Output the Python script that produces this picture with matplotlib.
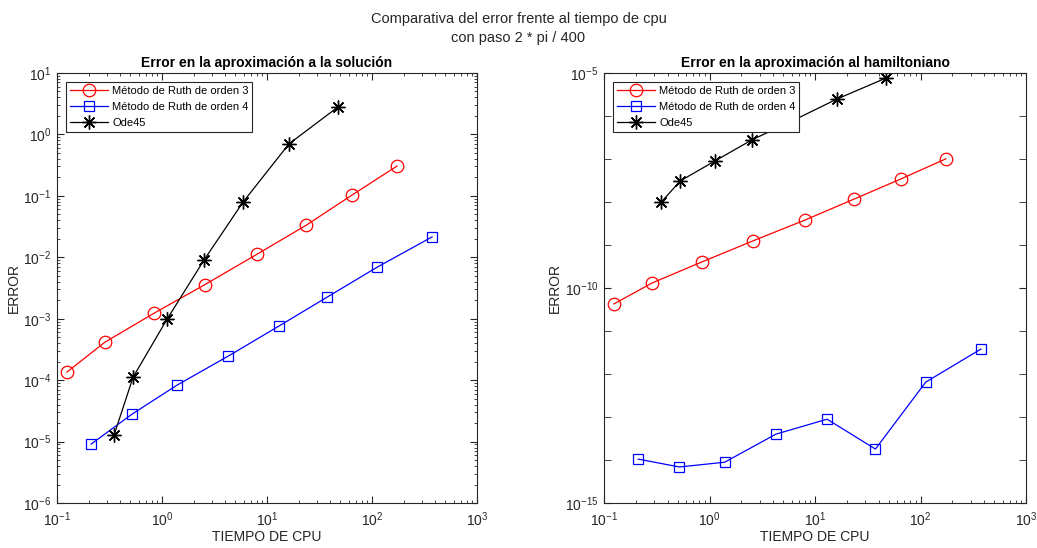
import matplotlib
matplotlib.use('Agg')
import matplotlib.pyplot as plt
from matplotlib.ticker import LogLocator, NullFormatter, LogFormatterSciNotation

plt.rcParams['font.family'] = ['Liberation Sans', 'DejaVu Sans']
plt.rcParams['mathtext.fontset'] = 'custom'
plt.rcParams['mathtext.rm'] = 'Liberation Sans'
plt.rcParams['mathtext.it'] = 'Liberation Sans:italic'
plt.rcParams['mathtext.bf'] = 'Liberation Sans:bold'

# tiempos de cpu
t_ruth3 = [0.124, 0.286, 0.84, 2.57, 8.03, 23.5, 64.6, 173]
t_ruth4 = [0.211, 0.518, 1.39, 4.25, 13.0, 37.3, 112, 373]
t_ode45 = [0.349, 0.53, 1.12, 2.51, 5.91, 16.2, 47.4]

# error en la solucion
err_sol_ruth3 = [1.35e-4, 4.15e-4, 1.23e-3, 3.6e-3, 1.12e-2, 3.3e-2, 0.103, 0.305]
err_sol_ruth4 = [9.1e-6, 2.8e-5, 8.3e-5, 2.45e-4, 7.6e-4, 2.24e-3, 6.9e-3, 2.14e-2]
err_sol_ode45 = [1.27e-5, 1.12e-4, 9.9e-4, 9.0e-3, 7.9e-2, 0.70, 2.79]

# error en el hamiltoniano
err_ham_ruth3 = [4.26e-11, 1.31e-10, 4.0e-10, 1.24e-9, 3.8e-9, 1.17e-8, 3.4e-8, 1.0e-7]
err_ham_ruth4 = [1.05e-14, 6.9e-15, 8.9e-15, 4.0e-14, 8.9e-14, 1.8e-14, 6.5e-13, 3.8e-12]
err_ham_ode45 = [1.0e-8, 3.1e-8, 8.9e-8, 2.76e-7, 7.4e-7, 2.48e-6, 7.65e-6]

labels = ['Método de Ruth de orden 3', 'Método de Ruth de orden 4', 'Ode45']
gray = '#262626'
star = (8, 2, 0)

fig = plt.figure(figsize=(10.37, 5.48), dpi=100)
fig.text(0.5, 0.965, 'Comparativa del error frente al tiempo de cpu',
         ha='center', va='center', fontsize=10.5, color=gray)
fig.text(0.5, 0.930, 'con paso 2 * pi / 400',
         ha='center', va='center', fontsize=10.5, color=gray)

ax1 = fig.add_axes([0.055, 0.082, 0.405, 0.785])
ax2 = fig.add_axes([0.5825, 0.082, 0.407, 0.785])

def draw(ax, e3, e4, eo, title):
    ax.plot(t_ruth3, e3, '-', color='red', lw=0.9, marker='o', ms=9, mfc='none', mew=0.9, label=labels[0])
    ax.plot(t_ruth4, e4, '-', color='blue', lw=0.9, marker='s', ms=7, mfc='none', mew=0.9, label=labels[1])
    ax.plot(t_ode45, eo, '-', color='black', lw=0.9, marker=star, ms=10, mew=1, label=labels[2])
    ax.set_xscale('log')
    ax.set_yscale('log')
    ax.set_xlim(0.1, 1000)
    ax.set_title(title, fontsize=10, fontweight='bold', color='black', pad=4)
    ax.set_xlabel('TIEMPO DE CPU', fontsize=10, color=gray, labelpad=1)
    ax.set_ylabel('ERROR', fontsize=10, color=gray, labelpad=2)
    for s in ax.spines.values():
        s.set_color(gray)
        s.set_linewidth(0.8)
    ax.tick_params(which='both', direction='in', top=True, right=True, colors=gray, labelsize=10)
    ax.tick_params(which='major', length=5)
    ax.tick_params(which='minor', length=2.5)
    ax.tick_params(axis='x', which='major', pad=5)
    ax.tick_params(axis='y', which='major', pad=4)
    ax.xaxis.set_minor_locator(LogLocator(base=10, subs=range(2, 10), numticks=20))
    ax.xaxis.set_minor_formatter(NullFormatter())
    leg = ax.legend(loc='upper left', fontsize=8, fancybox=False, framealpha=1,
                    edgecolor=gray, borderaxespad=0.8, handlelength=3.4,
                    borderpad=0.35, labelspacing=0.55, handletextpad=0.4)
    leg.get_frame().set_linewidth(0.8)

draw(ax1, err_sol_ruth3, err_sol_ruth4, err_sol_ode45, 'Error en la aproximación a la solución')
ax1.set_ylim(1e-6, 10)
ax1.yaxis.set_major_locator(LogLocator(base=10, numticks=20))
ax1.yaxis.set_minor_locator(LogLocator(base=10, subs=range(2, 10), numticks=20))
ax1.yaxis.set_minor_formatter(NullFormatter())

draw(ax2, err_ham_ruth3, err_ham_ruth4, err_ham_ode45, 'Error en la aproximación al hamiltoniano')
ax2.set_ylim(1e-15, 1e-5)
ax2.set_yticks([1e-15, 1e-10, 1e-5])
ax2.yaxis.set_major_formatter(LogFormatterSciNotation())
ax2.yaxis.set_minor_locator(LogLocator(base=10, subs=[1.0], numticks=20))
ax2.yaxis.set_minor_formatter(NullFormatter())
ax2.tick_params(axis='y', which='minor', length=5)

fig.savefig('out.png', dpi=100)
